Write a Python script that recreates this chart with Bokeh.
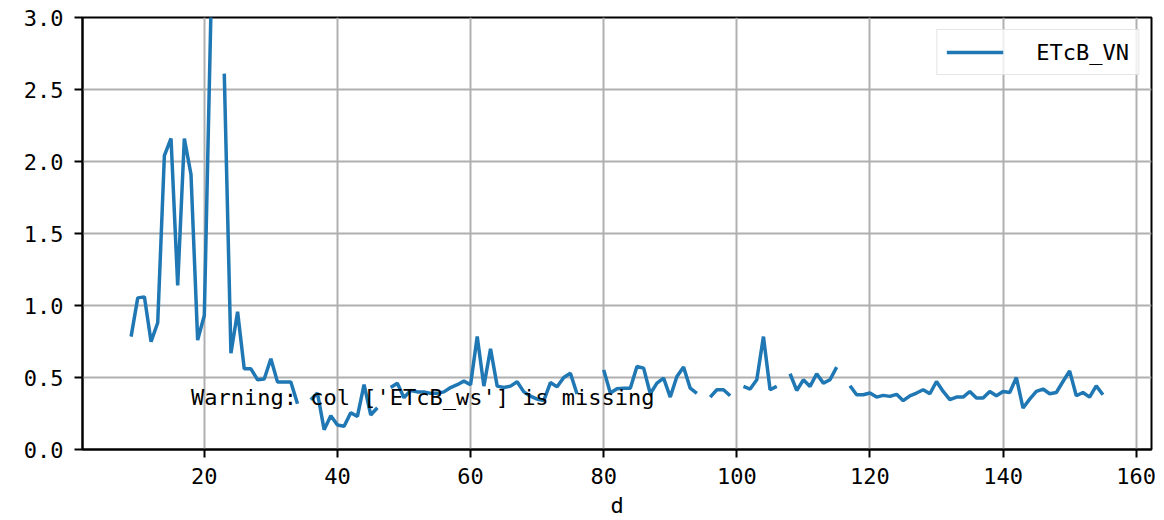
import numpy as np
from bokeh.plotting import figure
from bokeh.models import Range1d, FixedTicker, Label, ColumnDataSource, NumeralTickFormatter
from bokeh.embed import file_html
from bokeh.resources import INLINE

nan = np.nan

days = list(range(9, 156))
etcb_vn = [
    0.784, 1.053, 1.06, 0.749, 0.88, 2.04, 2.16, 1.14, 2.16, 1.91, 0.76, 0.93, 3.05, nan,   # 9-22
    2.61, 0.669, 0.957, 0.56, 0.56, 0.484, 0.49, 0.63, 0.468, 0.468, 0.468, 0.318, nan,    # 23-35
    0.346, 0.392, 0.138, 0.235, 0.17, 0.162, 0.255, 0.23, 0.45, 0.24, 0.29, nan,           # 36-47
    0.43, 0.46, 0.36, 0.41, 0.40, 0.40, 0.39, 0.39, 0.40, 0.43, 0.45, 0.475, 0.45,         # 48-60
    0.784, 0.44, 0.70, 0.44, 0.43, 0.44, 0.47, 0.40, 0.37, 0.35, 0.34, 0.465, 0.435,       # 61-73
    0.50, 0.53, 0.385, nan, nan, nan,                                                      # 74-79
    0.553, 0.392, 0.422, 0.426, 0.426, 0.576, 0.565, 0.387, 0.461, 0.496, 0.364, 0.507,    # 80-91
    0.572, 0.426, 0.39, nan,                                                               # 92-95
    0.364, 0.415, 0.415, 0.373, nan,                                                       # 96-100
    0.438, 0.42, 0.484, 0.784, 0.415, 0.438, nan,                                          # 101-107
    0.526, 0.41, 0.484, 0.438, 0.526, 0.461, 0.484, 0.572, nan,                            # 108-116
    0.443, 0.38, 0.38, 0.392, 0.364, 0.376, 0.369, 0.383, 0.339, 0.373, 0.392, 0.415,      # 117-128
    0.387, 0.472, 0.403, 0.346, 0.364, 0.364, 0.403, 0.357, 0.357, 0.403, 0.373, 0.403,    # 129-140
    0.396, 0.50, 0.288, 0.35, 0.403, 0.42, 0.387, 0.396, 0.472, 0.546, 0.373, 0.396,       # 141-152
    0.364, 0.442, 0.38,                                                                    # 153-155
]

x_ticks = [20, 40, 60, 80, 100, 120, 140, 160]
y_ticks = [0.0, 0.5, 1.0, 1.5, 2.0, 2.5, 3.0]
series_name = "ETcB_VN"
x_label = "d"
warning_text = "Warning: col ['ETcB_ws'] is missing"

FONT = "DejaVu Sans Mono"
FS = "22px"

src = ColumnDataSource(data=dict(d=days, v=etcb_vn))

p = figure(width=1164, height=520, output_backend="svg", toolbar_location=None,
           x_range=Range1d(1.7, 162.3), y_range=Range1d(0, 3.0),
           min_border_left=82, min_border_right=13, min_border_top=17, min_border_bottom=70)

p.line("d", "v", source=src, line_color="#1f77b4", line_width=3.5, legend_label=series_name)

p.outline_line_color = "black"
p.outline_line_width = 2
p.background_fill_color = "white"

for ax in (p.xaxis[0], p.yaxis[0]):
    ax.axis_line_color = "black"
    ax.axis_line_width = 2
    ax.major_tick_line_color = "black"
    ax.major_tick_line_width = 2
    ax.major_tick_out = 8
    ax.major_tick_in = 0
    ax.minor_tick_line_color = None
    ax.major_label_text_font = FONT
    ax.major_label_text_font_size = FS
    ax.major_label_text_color = "black"
    ax.axis_label_text_font = FONT
    ax.axis_label_text_font_size = FS
    ax.axis_label_text_font_style = "normal"
    ax.axis_label_text_color = "black"

p.xaxis.ticker = FixedTicker(ticks=x_ticks)
p.yaxis.ticker = FixedTicker(ticks=y_ticks)
p.yaxis.formatter = NumeralTickFormatter(format="0.0")
p.xaxis.major_label_standoff = 10
p.yaxis.major_label_standoff = 11
p.xaxis.axis_label = x_label
p.xaxis.axis_label_standoff = 6

p.grid.grid_line_color = "#b0b0b0"
p.grid.grid_line_width = 2
p.xgrid.ticker = FixedTicker(ticks=x_ticks)
p.ygrid.ticker = FixedTicker(ticks=y_ticks)

p.add_layout(Label(x=18, y=0.36, text=warning_text, text_font=FONT, text_font_size=FS,
                   text_color="black", text_baseline="alphabetic", text_align="left"))

lg = p.legend[0]
lg.location = "top_right"
lg.margin = 12
lg.padding = 9
lg.spacing = 0
lg.glyph_width = 57
lg.glyph_height = 26
lg.label_standoff = 33
lg.label_text_font = FONT
lg.label_text_font_size = FS
lg.label_text_color = "black"
lg.border_line_color = "#cccccc"
lg.border_line_width = 1.5
lg.background_fill_alpha = 0.8

open("out.html", "w").write(file_html(p, INLINE))
